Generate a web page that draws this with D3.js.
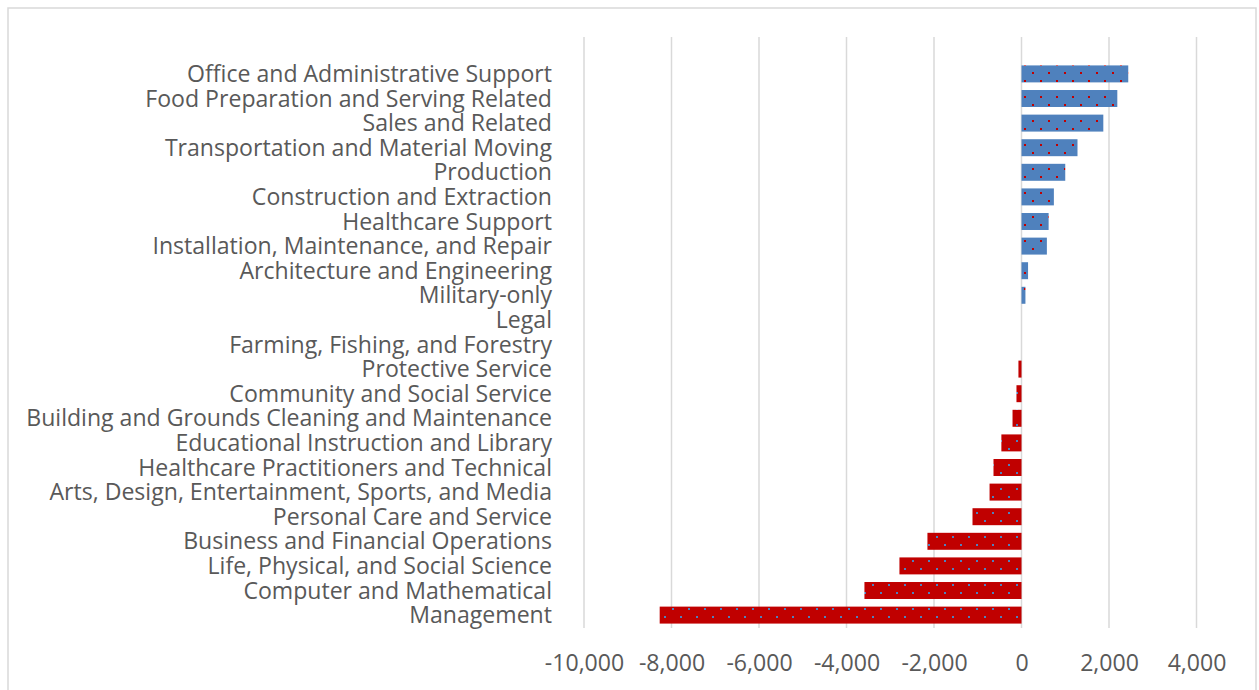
<!DOCTYPE html>
<html>
<head>
<meta charset="utf-8">
<script src="https://cdn.jsdelivr.net/npm/d3@7"></script>
<style>
  body { margin: 0; background: #fff; }
  text { font-family: "Open Sans", Lato, sans-serif; fill: #595959; }
</style>
</head>
<body>
<div id="chart"></div>
<script>
// occupations, top to bottom
var occupations = [
  "Office and Administrative Support",
  "Food Preparation and Serving Related",
  "Sales and Related",
  "Transportation and Material Moving",
  "Production",
  "Construction and Extraction",
  "Healthcare Support",
  "Installation, Maintenance, and Repair",
  "Architecture and Engineering",
  "Military-only",
  "Legal",
  "Farming, Fishing, and Forestry",
  "Protective Service",
  "Community and Social Service",
  "Building and Grounds Cleaning and Maintenance",
  "Educational Instruction and Library",
  "Healthcare Practitioners and Technical",
  "Arts, Design, Entertainment, Sports, and Media",
  "Personal Care and Service",
  "Business and Financial Operations",
  "Life, Physical, and Social Science",
  "Computer and Mathematical",
  "Management"
];
var changes = [2440, 2190, 1870, 1280, 1000, 740, 620, 580, 150, 90, 0, 0,
  -70, -115, -205, -460, -640, -730, -1120, -2150, -2790, -3590, -8270];
var xTicks = [-10000, -8000, -6000, -4000, -2000, 0, 2000, 4000];

var W = 1259, H = 690;
var svg = d3.select("#chart").append("svg")
  .attr("width", W).attr("height", H);

// chart border
svg.append("rect")
  .attr("x", 8).attr("y", 8).attr("width", 1248).attr("height", 700)
  .attr("fill", "none").attr("stroke", "#d9d9d9").attr("stroke-width", 1.5);

// dotted patterns
var defs = svg.append("defs");
function makePattern(id, bg, dot) {
  var p = defs.append("pattern").attr("id", id)
    .attr("patternUnits", "userSpaceOnUse")
    .attr("width", 16).attr("height", 16);
  p.append("rect").attr("width", 16).attr("height", 16).attr("fill", bg);
  p.append("rect").attr("x", 0).attr("y", 0).attr("width", 2).attr("height", 2).attr("fill", dot);
  p.append("rect").attr("x", 8).attr("y", 8).attr("width", 2).attr("height", 2).attr("fill", dot);
}
makePattern("posPat", "#4f81bd", "#c00000");
makePattern("negPat", "#c00000", "#4f81bd");

var x = d3.scaleLinear().domain([-10000, 4000]).range([584, 1196.5]);
var y = d3.scaleBand().domain(occupations)
  .range([61.6, 627.4]).paddingInner(0.31).paddingOuter(0.155);

// gridlines
svg.append("g").selectAll("line")
  .data(xTicks).enter().append("line")
  .attr("x1", function(d) { return x(d); })
  .attr("x2", function(d) { return x(d); })
  .attr("y1", 37).attr("y2", 628)
  .attr("stroke", "#d9d9d9").attr("stroke-width", 1.5);

// bars
svg.append("g").selectAll("rect")
  .data(occupations).enter().append("rect")
  .attr("x", function(d, i) { return x(Math.min(0, changes[i])); })
  .attr("y", function(d) { return y(d); })
  .attr("width", function(d, i) { return Math.abs(x(changes[i]) - x(0)); })
  .attr("height", y.bandwidth())
  .attr("fill", function(d, i) { return changes[i] >= 0 ? "url(#posPat)" : "url(#negPat)"; });

// category labels
var labels = svg.append("g").selectAll("text")
  .data(occupations).enter().append("text")
  .attr("x", 552)
  .attr("y", function(d) { return y(d) + y.bandwidth() / 2; })
  .attr("dy", "0.35em")
  .attr("text-anchor", "end")
  .style("font-size", "20px")
  .text(function(d) { return d; });

// fit font size so the longest label spans like the original
var longest = 0;
labels.each(function() { longest = Math.max(longest, this.getComputedTextLength()); });
var fs = 20 * 526 / longest;
labels.style("font-size", fs + "px");

// x axis labels (plain hyphen for negatives)
var fmt = d3.format(",");
var xAxis = d3.axisBottom(x).tickValues(xTicks).tickSize(0).tickPadding(0)
  .tickFormat(function(d) { return fmt(d).replace("\u2212", "-"); });
var ax = svg.append("g").attr("transform", "translate(0,663)").call(xAxis);
ax.select(".domain").remove();
ax.selectAll("text")
  .attr("dy", "0.35em")
  .style("font-size", fs + "px")
  .style("font-family", "'Open Sans', Lato, sans-serif")
  .attr("fill", "#595959");
</script>
</body>
</html>
